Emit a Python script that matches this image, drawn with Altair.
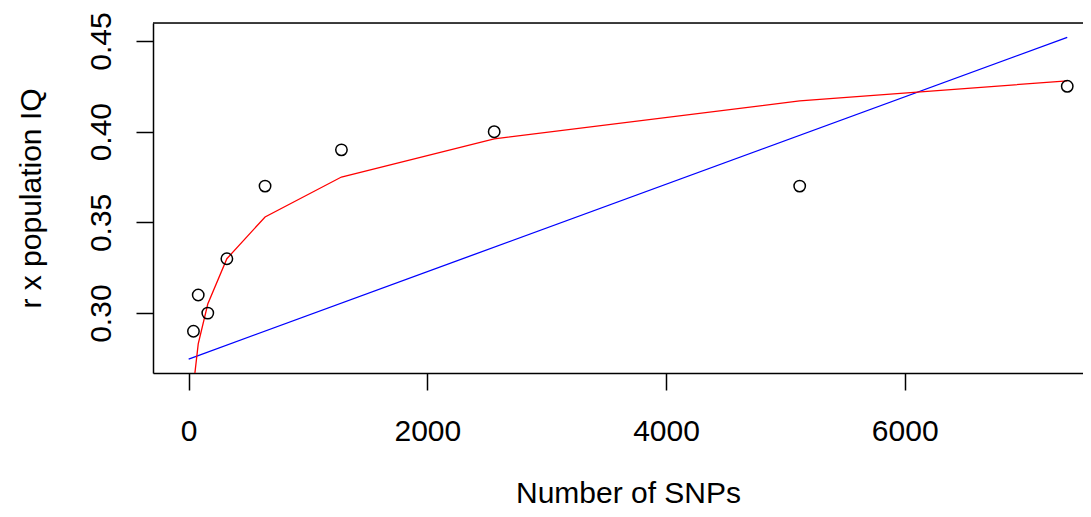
import altair as alt
import pandas as pd

# Data
snps = [40, 80, 160, 320, 640, 1280, 2560, 5120, 7362]
r_iq = [0.29, 0.31, 0.30, 0.33, 0.37, 0.39, 0.40, 0.37, 0.425]
log_fit = [0.260, 0.283, 0.305, 0.330, 0.353, 0.375, 0.396, 0.417, 0.428]
lin_x = [0, 7362]
lin_fit = [0.2747, 0.452]
x_ticks = [0, 2000, 4000, 6000]
y_ticks = [0.30, 0.35, 0.40, 0.45]

pts = pd.DataFrame({"snps": snps, "r": r_iq})
red = pd.DataFrame({"snps": snps, "r": log_fit})
blue = pd.DataFrame({"snps": lin_x, "r": lin_fit})

W, H = 930, 350
FONT = "Liberation Sans"

xscale = alt.Scale(domain=[-299, 7494], nice=False, zero=False)
yscale = alt.Scale(domain=[0.2670, 0.4599], nice=False, zero=False)

xaxis = alt.Axis(
    values=x_ticks, format="d", title="Number of SNPs", grid=False,
    tickSize=17, tickWidth=1.5, tickColor="black",
    domainColor="black", domainWidth=1.5,
    labelFontSize=30, labelFont=FONT, labelColor="black", labelPadding=26,
    labelBaseline="top", labelAlign="center", labelFlush=False, labelOverlap=False,
    titleFontSize=30, titleFont=FONT, titleFontWeight="normal", titleColor="black",
    titleX=475, titleY=129, titleAlign="center", titleBaseline="alphabetic",
)
yaxis = alt.Axis(
    values=y_ticks, format=".2f", title="r x population IQ", grid=False,
    tickSize=17, tickWidth=1.5, tickColor="black",
    domainColor="black", domainWidth=1.5,
    labelFontSize=30, labelFont=FONT, labelColor="black", labelPadding=26,
    labelAngle=270, labelAlign="center", labelBaseline="alphabetic",
    labelFlush=False, labelOverlap=False,
    titleFontSize=30, titleFont=FONT, titleFontWeight="normal", titleColor="black",
    titleAngle=270, titleX=-113, titleY=175, titleAlign="center", titleBaseline="alphabetic",
)

points = alt.Chart(pts).mark_point(
    shape="circle", filled=False, size=130, strokeWidth=1.5, color="black", opacity=1
).encode(
    x=alt.X("snps:Q", scale=xscale, axis=xaxis),
    y=alt.Y("r:Q", scale=yscale, axis=yaxis),
)

red_line = alt.Chart(red).mark_line(color="#FF0000", strokeWidth=1.3, clip=True).encode(
    x=alt.X("snps:Q", scale=xscale),
    y=alt.Y("r:Q", scale=yscale),
)

blue_line = alt.Chart(blue).mark_line(color="#0000FF", strokeWidth=1.3, clip=True).encode(
    x=alt.X("snps:Q", scale=xscale),
    y=alt.Y("r:Q", scale=yscale),
)

top_border = alt.Chart(pd.DataFrame({"a": [0]})).mark_rule(
    color="black", strokeWidth=1.5
).encode(x=alt.value(0), x2=alt.value(W), y=alt.value(0))

chart = alt.layer(blue_line, red_line, points, top_border).properties(
    width=W, height=H,
    autosize=alt.AutoSizeParams(type="none"),
    padding={"left": 145, "top": 15, "right": 0, "bottom": 136},
).configure_view(stroke=None).configure(font=FONT, background="white")

chart.save("out.html", embed_options={"renderer": "svg", "actions": False})
